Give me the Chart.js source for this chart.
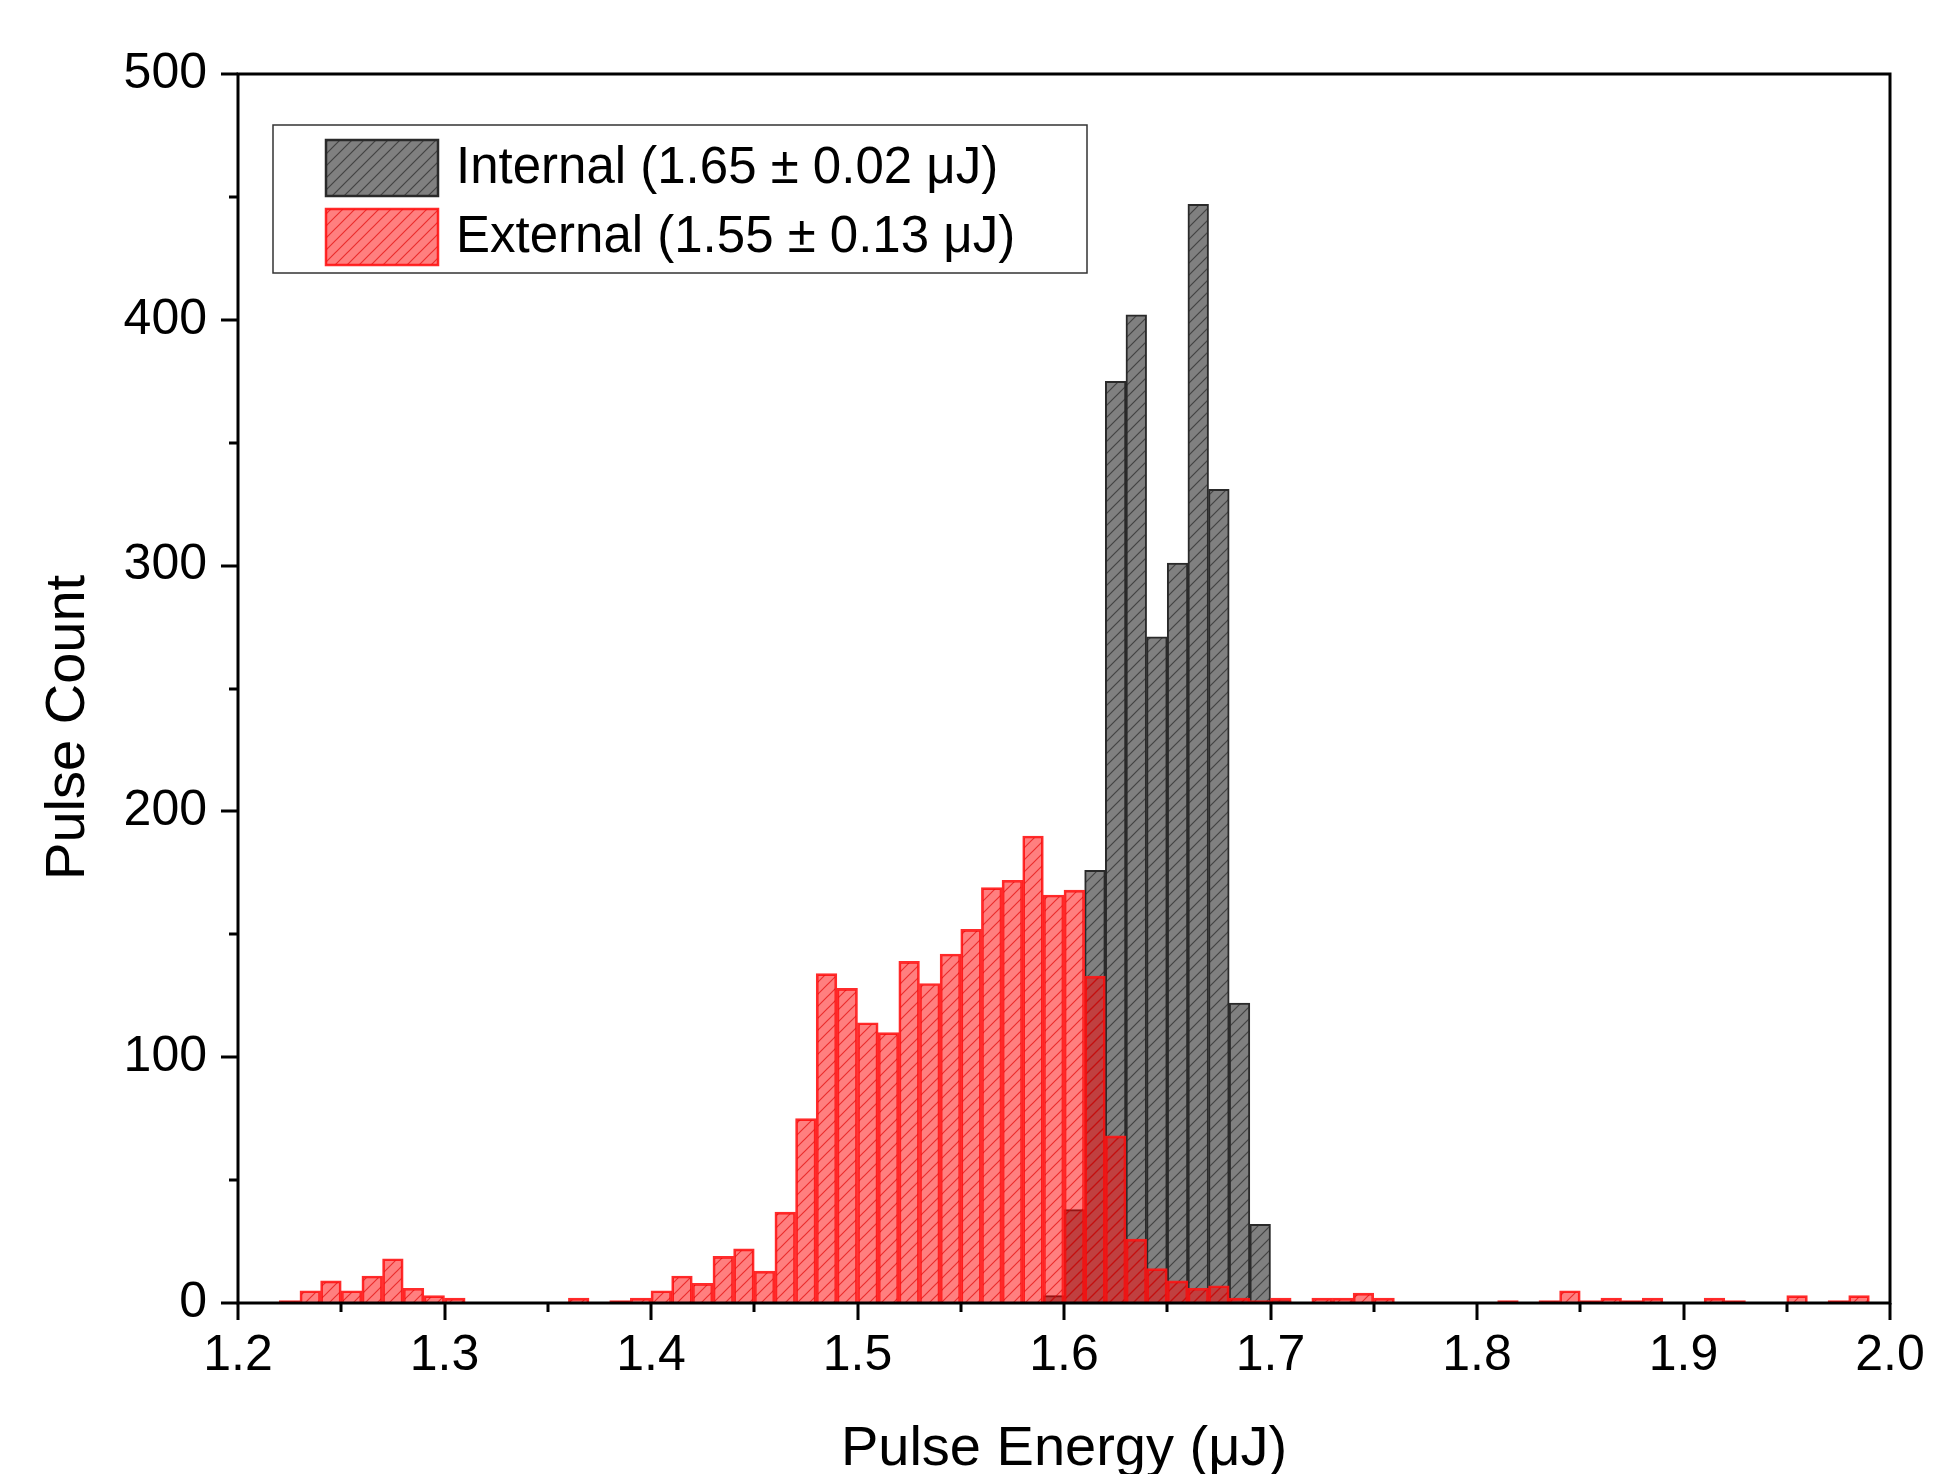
<!DOCTYPE html>
<html lang="en">
<head>
  <meta charset="UTF-8">
  <title>Pulse Energy Histogram</title>
  <script src="https://cdn.jsdelivr.net/npm/chart.js"></script>
  <style>
    body {
      margin: 0;
      background: #fff;
    }
    canvas {
      display: block;
    }
  </style>
</head>
<body>
  <canvas id="chart" width="1936" height="1474"></canvas>

  <script>
    // bin left edges (0.01 uJ wide bins) and counts
    const binWidth = 0.01;

    const internalBins = [1.59, 1.60, 1.61, 1.62, 1.63, 1.64, 1.65, 1.66, 1.67, 1.68, 1.69, 1.70];
    const internalCounts = [3, 38, 176, 375, 402, 271, 301, 447, 331, 122, 32, 1];

    const externalBins = [
      1.22, 1.23, 1.24, 1.25, 1.26, 1.27, 1.28, 1.29, 1.30,
      1.36,
      1.38, 1.39, 1.40, 1.41, 1.42, 1.43, 1.44, 1.45, 1.46, 1.47,
      1.48, 1.49, 1.50, 1.51, 1.52, 1.53, 1.54, 1.55, 1.56, 1.57,
      1.58, 1.59, 1.60, 1.61, 1.62, 1.63, 1.64, 1.65, 1.66, 1.67,
      1.68, 1.69, 1.70,
      1.72, 1.73, 1.74, 1.75,
      1.81, 1.83, 1.84, 1.85, 1.86, 1.87, 1.88,
      1.91, 1.92, 1.95, 1.97, 1.98
    ];
    const externalCounts = [
      1, 5, 9, 5, 11, 18, 6, 3, 2,
      2,
      1, 2, 5, 11, 8, 19, 22, 13, 37, 75,
      134, 128, 114, 110, 139, 130, 142, 152, 169, 172,
      190, 166, 168, 133, 68, 26, 14, 9, 6, 7,
      2, 1, 2,
      2, 2, 4, 2,
      1, 1, 5, 1, 2, 1, 2,
      2, 1, 3, 1, 3
    ];

    const seriesLabels = ['Internal (1.65 \u00B1 0.02 \u03BCJ)', 'External (1.55 \u00B1 0.13 \u03BCJ)'];
    const xTicks = [1.2, 1.3, 1.4, 1.5, 1.6, 1.7, 1.8, 1.9, 2.0];
    const yTicks = [0, 100, 200, 300, 400, 500];

    const FONT = 'Arial, "Liberation Sans", sans-serif';
    Chart.defaults.font.family = FONT;
    Chart.defaults.color = '#000';

    function hatch(fill, line) {
      const s = 12;
      const c = document.createElement('canvas');
      c.width = s;
      c.height = s;
      const g = c.getContext('2d');
      g.fillStyle = fill;
      g.fillRect(0, 0, s, s);
      g.strokeStyle = line;
      g.lineWidth = 1.2;
      g.beginPath();
      g.moveTo(0, s); g.lineTo(s, 0);
      g.moveTo(-s / 2, s / 2); g.lineTo(s / 2, -s / 2);
      g.moveTo(s / 2, s * 1.5); g.lineTo(s * 1.5, s / 2);
      g.stroke();
      return g.createPattern(c, 'repeat');
    }

    const grayFill = hatch('#808080', 'rgba(40,40,40,0.7)');
    const redFill = hatch('rgba(255,0,0,0.5)', 'rgba(225,0,0,0.65)');
    const grayBorder = '#2a2a2a';
    const redBorder = 'rgba(255,20,20,0.9)';

    function toPoints(bins, counts) {
      return bins.map((b, i) => ({ x: b + binWidth / 2, y: counts[i] }));
    }

    // frame, outward ticks (major + minor) and the boxed legend
    const decorations = {
      id: 'decorations',
      afterDraw(chart) {
        const { ctx, chartArea: a, scales: { x, y } } = chart;
        ctx.save();
        ctx.strokeStyle = '#000';
        ctx.lineWidth = 3;
        ctx.strokeRect(a.left, a.top, a.right - a.left, a.bottom - a.top);

        ctx.beginPath();
        for (let v = 1.2; v <= 2.0001; v += 0.05) {
          const px = Math.round(x.getPixelForValue(v));
          const major = Math.abs(Math.round(v * 10) - v * 10) < 1e-6;
          ctx.moveTo(px, a.bottom);
          ctx.lineTo(px, a.bottom + (major ? 17 : 9));
        }
        for (let v = 0; v <= 500; v += 50) {
          const py = Math.round(y.getPixelForValue(v));
          ctx.moveTo(a.left, py);
          ctx.lineTo(a.left - (v % 100 === 0 ? 17 : 9), py);
        }
        ctx.stroke();

        // legend
        const lx = 273, ly = 125, lw = 814, lh = 148;
        ctx.fillStyle = '#fff';
        ctx.fillRect(lx, ly, lw, lh);
        ctx.strokeStyle = '#333';
        ctx.lineWidth = 1.5;
        ctx.strokeRect(lx, ly, lw, lh);

        const rows = [
          { fill: grayFill, border: grayBorder, cy: 168 },
          { fill: redFill, border: redBorder, cy: 237 }
        ];
        ctx.font = '51px ' + FONT;
        ctx.textBaseline = 'middle';
        rows.forEach((r, i) => {
          ctx.fillStyle = r.fill;
          ctx.fillRect(326, r.cy - 28, 112, 56);
          ctx.strokeStyle = r.border;
          ctx.lineWidth = 2.5;
          ctx.strokeRect(326, r.cy - 28, 112, 56);
          ctx.fillStyle = '#000';
          ctx.fillText(seriesLabels[i], 456, r.cy + 1);
        });
        ctx.restore();
      }
    };

    new Chart(document.getElementById('chart').getContext('2d'), {
      type: 'bar',
      data: {
        datasets: [
          {
            // drawn on top of the internal bars
            label: seriesLabels[1],
            data: toPoints(externalBins, externalCounts),
            backgroundColor: redFill,
            borderColor: redBorder,
            borderWidth: 2
          },
          {
            label: seriesLabels[0],
            data: toPoints(internalBins, internalCounts),
            backgroundColor: grayFill,
            borderColor: grayBorder,
            borderWidth: 2
          }
        ]
      },
      options: {
        responsive: false,
        animation: false,
        datasets: {
          bar: {
            grouped: false,
            barPercentage: 1,
            categoryPercentage: 1
          }
        },
        layout: {
          padding: { top: 74, right: 46, left: 0, bottom: 0 }
        },
        plugins: {
          legend: { display: false },
          tooltip: { enabled: false }
        },
        scales: {
          x: {
            type: 'linear',
            min: 1.2,
            max: 2.0,
            offset: false,
            grid: { display: false, drawTicks: false },
            border: { display: false },
            afterBuildTicks: (s) => { s.ticks = xTicks.map(v => ({ value: v })); },
            afterFit: (s) => {
              s.height = 171;
              s.paddingLeft = 0;
              s.paddingRight = 0;
            },
            ticks: {
              padding: 23,
              font: { size: 50 },
              callback: (v) => Number(v).toFixed(1)
            },
            title: {
              display: true,
              text: 'Pulse Energy (\u03BCJ)',
              font: { size: 56, lineHeight: 1 },
              padding: { top: 0, bottom: -4 }
            }
          },
          y: {
            min: 0,
            max: 500,
            grid: { display: false, drawTicks: false },
            border: { display: false },
            afterBuildTicks: (s) => { s.ticks = yTicks.map(v => ({ value: v })); },
            afterFit: (s) => {
              s.width = 238;
              s.paddingTop = 0;
              s.paddingBottom = 0;
            },
            ticks: {
              padding: 31,
              font: { size: 50 }
            },
            title: {
              display: true,
              // trailing spaces push the rotated title down, as in the figure
              text: 'Pulse Count\u00A0\u00A0\u00A0\u00A0\u00A0',
              font: { size: 56, lineHeight: 1 },
              padding: { top: 41, bottom: 0 }
            }
          }
        }
      },
      plugins: [decorations]
    });
  </script>
</body>
</html>
